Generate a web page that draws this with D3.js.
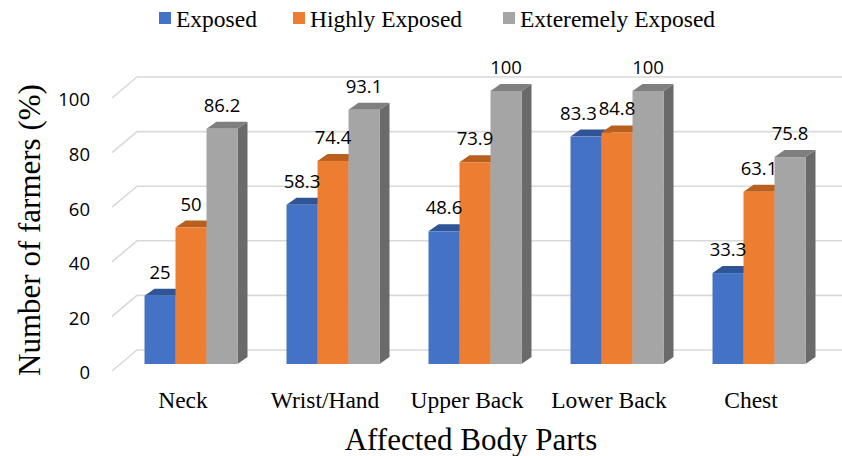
<!DOCTYPE html>
<html>
<head>
<meta charset="utf-8">
<script src="https://cdn.jsdelivr.net/npm/d3@7"></script>
<style>
  body { margin: 0; background: #fff; }
  svg { display: block; }
</style>
</head>
<body>
<svg></svg>
<script>
// chart data
let categories = ['Neck', 'Wrist/Hand', 'Upper Back', 'Lower Back', 'Chest']
let seriesNames = ['Exposed', 'Highly Exposed', 'Exteremely Exposed']
let exposed = [25, 58.3, 48.6, 83.3, 33.3]
let highlyExposed = [50, 74.4, 73.9, 84.8, 63.1]
let extremelyExposed = [86.2, 93.1, 100, 100, 75.8]
let yTicks = [0, 20, 40, 60, 80, 100]

let width = 842
let height = 456

let colors = ['#4472C4', '#ED7D31', '#A5A5A5']
let topColors = ['#2F5597', '#B9601F', '#7F7F7F']
let sideColors = ['#2B4C85', '#A8561C', '#6A6A6A']

// 3d offsets: wall depth and bar depth
let wallDx = 25, wallDy = -21
let barDx = 10, barDy = -7
let barInset = 8   // bars sit a little behind the front edge

let svg = d3.select('svg').attr('width', width).attr('height', height)

let xScale = d3.scaleBand().domain(categories).range([112, 822])
let yScale = d3.scaleLinear().domain([0, 100]).range([371, 98])

let seriesScale = d3.scaleBand().domain(seriesNames).range([0, 93])

let values = [exposed, highlyExposed, extremelyExposed]

// gridlines: diagonal on the side wall then flat on the back wall
let grid = svg.append('g')
yTicks.forEach((t) => {
    let y = yScale(t)
    grid.append('path')
        .attr('d', 'M112,' + y + 'L' + (112 + wallDx) + ',' + (y + wallDy) + 'L' + width + ',' + (y + wallDy))
        .attr('fill', 'none')
        .attr('stroke', '#d9d9d9')
        .attr('stroke-width', 1.6)
})

// bars
let bars = []
categories.forEach((c, ci) => {
    let groupX = xScale(c) + (xScale.bandwidth() - 93) / 2 + barInset
    seriesNames.forEach((s, si) => {
        let v = values[si][ci]
        let x = groupX + seriesScale(s)
        let w = seriesScale.bandwidth()
        let yTop = yScale(v) - 7
        let yBot = yScale(0) - 7
        bars.push({x: x, w: w, yTop: yTop, yBot: yBot, si: si, v: v})
    })
})

let barG = svg.append('g')
bars.forEach((b) => {
    // side
    barG.append('path')
        .attr('d', 'M' + (b.x + b.w) + ',' + b.yTop + 'L' + (b.x + b.w + barDx) + ',' + (b.yTop + barDy) +
            'L' + (b.x + b.w + barDx) + ',' + (b.yBot + barDy) + 'L' + (b.x + b.w) + ',' + b.yBot + 'Z')
        .attr('fill', sideColors[b.si])
    // top
    barG.append('path')
        .attr('d', 'M' + b.x + ',' + b.yTop + 'L' + (b.x + barDx) + ',' + (b.yTop + barDy) +
            'L' + (b.x + b.w + barDx) + ',' + (b.yTop + barDy) + 'L' + (b.x + b.w) + ',' + b.yTop + 'Z')
        .attr('fill', topColors[b.si])
    // front
    barG.append('rect')
        .attr('x', b.x)
        .attr('y', b.yTop)
        .attr('width', b.w)
        .attr('height', b.yBot - b.yTop)
        .attr('fill', colors[b.si])
})

// value labels, nudged left when they would overlap the next one
let labelFont = '18.5px "Open Sans", sans-serif'
let labels = svg.append('g').style('font', labelFont).attr('fill', '#000')
let placed = bars.map((b) => {
    let t = labels.append('text')
        .attr('text-anchor', 'middle')
        .attr('x', b.x + b.w / 2)
        .attr('y', b.yTop - 17)
        .text(b.v)
    return {node: t, b: b, box: t.node().getBBox()}
})
for (let i = 0; i < placed.length - 1; i++) {
    let a = placed[i], n = placed[i + 1]
    let vOverlap = Math.abs(a.box.y - n.box.y) < a.box.height
    let overlap = a.box.x + a.box.width + 2 - n.box.x
    if (vOverlap && overlap > 0 && a.b.si < n.b.si) {
        a.node.attr('x', a.b.x + a.b.w / 2 - overlap)
    }
}

// y axis
let yAxis = d3.axisLeft(yScale).tickValues(yTicks).tickSize(0).tickPadding(22)
let yG = svg.append('g')
    .attr('transform', 'translate(112, 2)')
    .call(yAxis)
yG.select('.domain').remove()
yG.selectAll('text').style('font', '18.5px "Open Sans", sans-serif').attr('fill', '#000')

// x axis
let xAxis = d3.axisBottom(xScale).tickSize(0).tickPadding(20)
let xG = svg.append('g')
    .attr('transform', 'translate(0, ' + yScale(0) + ')')
    .call(xAxis)
xG.select('.domain').remove()
xG.selectAll('text').style('font', '23.5px "Liberation Serif", serif').attr('fill', '#000')

// axis titles
svg.append('text')
    .attr('transform', 'translate(40, 230) rotate(-90)')
    .attr('text-anchor', 'middle')
    .style('font', '31px "Liberation Serif", serif')
    .text('Number of farmers (%)')

svg.append('text')
    .attr('x', 471)
    .attr('y', 450)
    .attr('text-anchor', 'middle')
    .style('font', '31px "Liberation Serif", serif')
    .text('Affected Body Parts')

// legend
let legendX = [159, 293, 503]
let legend = svg.append('g')
seriesNames.forEach((s, i) => {
    legend.append('rect')
        .attr('x', legendX[i]).attr('y', 12)
        .attr('width', 12).attr('height', 12)
        .attr('fill', colors[i])
    legend.append('text')
        .attr('x', legendX[i] + 17)
        .attr('y', 27)
        .style('font', '23.5px "Liberation Serif", serif')
        .text(s)
})
</script>
</body>
</html>
